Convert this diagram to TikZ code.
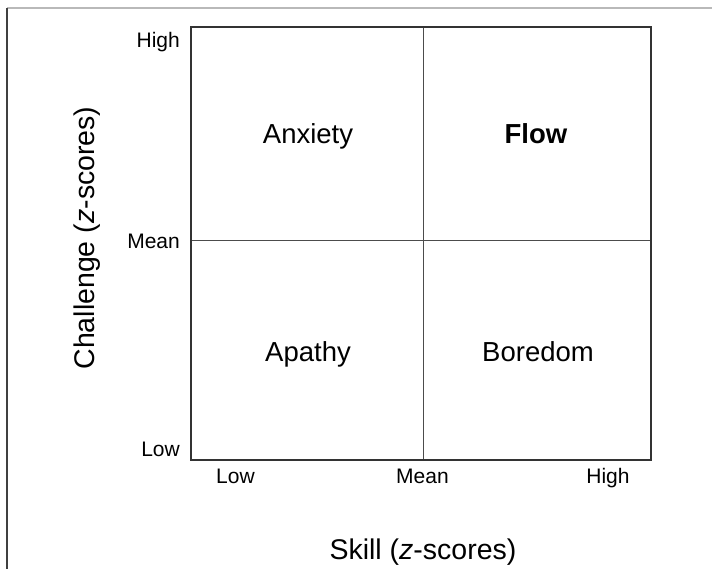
\documentclass[tikz,border=0pt]{standalone}
\usepackage{fontspec}
\setmainfont{Liberation Sans}
\begin{document}
\begin{tikzpicture}[x=1pt,y=-1pt,
        every node/.style = {inner sep=0pt},
        tick/.style = {font=\fontsize{21}{24}\selectfont},
        zone/.style = {font=\fontsize{27.5}{32}\selectfont, anchor=base},
        axis/.style = {font=\fontsize{28.5}{32}\selectfont}]
    \useasboundingbox (0,0) rectangle (712,569);
    % outer frame
    \draw[gray!55, line width=1.5pt] (7,8) -- (712,8);
    \draw[black!75, line width=1.5pt] (7,8) -- (7,569);
    % quadrants
    \coordinate (sw) at (191,460);
    \coordinate (ne) at (651,27);
    \coordinate (mid) at (423.5,240.5);
    \draw[black!70, line width=1.5pt] (mid |- ne) -- (mid |- sw)
        (sw |- mid) -- (ne |- mid);
    \draw[black!80, line width=1.6pt] (sw) rectangle (ne);
    \node[zone] (anx) at (308,144) {Anxiety};
    \node[zone] (flow) at (536,144) {\textbf{Flow}};
    \node[zone] (apa) at (308,361) {Apathy};
    \node[zone] (bor) at (538,361) {Boredom};
    % tick labels
    \node[tick, anchor=base east] (yhi) at (180,48) {High};
    \node[tick, anchor=base east] (ymid) at (180,249) {Mean};
    \node[tick, anchor=base east] (ylo) at (180,456) {Low};
    \node[tick, anchor=base] (xlo) at (235.5,483) {Low};
    \node[tick, anchor=base] (xmid) at (422.5,483) {Mean};
    \node[tick, anchor=base] (xhi) at (608,483) {High};
    % axis titles
    \node[axis] (xlab) at (423,552) {Skill (\textit{z}-scores)};
    \node[axis, rotate=90] (ylab) at (87,238) {Challenge (\textit{z}-scores)};
\end{tikzpicture}
\end{document}
